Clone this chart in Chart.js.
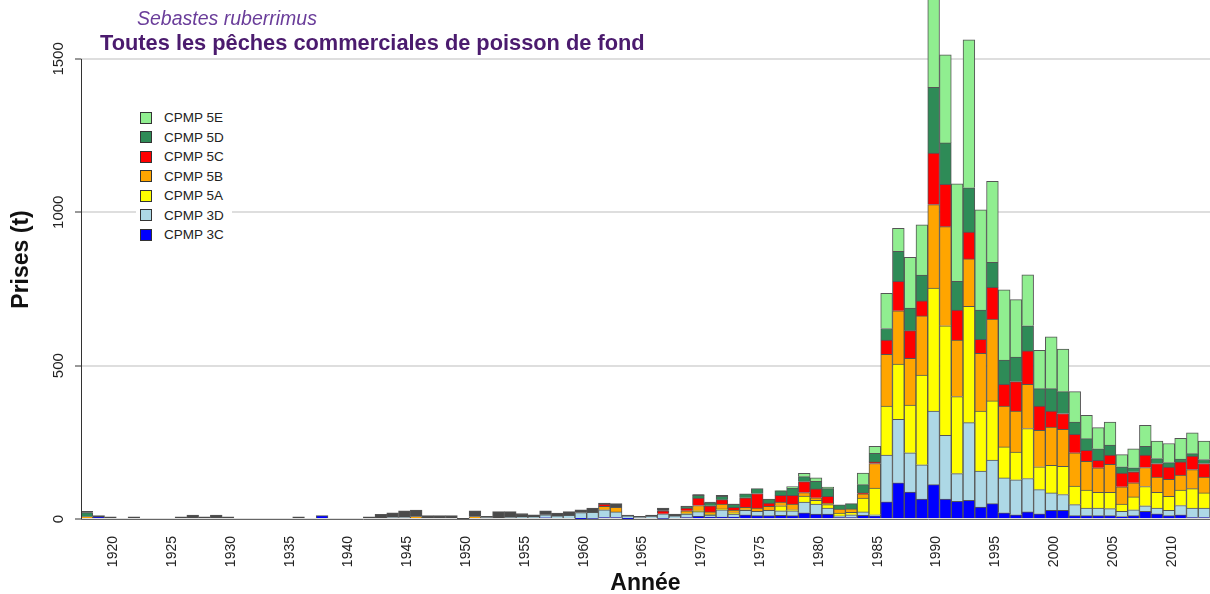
<!DOCTYPE html>
<html>
<head>
<meta charset="utf-8">
<script src="https://cdn.jsdelivr.net/npm/chart.js@4"></script>
<style>
body { margin: 0; background: #fff; font-family: Arial, "Liberation Sans", sans-serif; }
#wrap { position: relative; width: 1210px; height: 594px; overflow: hidden; }
#sp { position: absolute; left: 137px; top: 7px; font-style: italic; font-size: 19.5px; color: #6a3d9a; }
#tt { position: absolute; left: 100px; top: 30px; font-weight: bold; font-size: 21.8px; color: #4b1b6e; }
#leg { position: absolute; left: 136px; top: 107px; background: #fff; padding: 1px 8px 1px 4px; }
.it { display: flex; align-items: center; height: 19.5px; font-size: 13.5px; color: #222; }
.sw { width: 10px; height: 10px; border: 1px solid #333; margin-right: 12px; }
</style>
</head>
<body>
<div id="wrap">
  <canvas id="myChart" width="1210" height="594"></canvas>
  <div id="sp">Sebastes ruberrimus</div>
  <div id="tt">Toutes les pêches commerciales de poisson de fond</div>
  <div id="leg"></div>
</div>
<script>
// years 1918 - 2013
const years = [];
for (let y = 1918; y <= 2013; y++) years.push(y);

const yTicks = [0, 500, 1000, 1500];

// catches (t) per area
const cpmp3C = [
  0, 6, 0, 0, 0, 0, 0, 0, 0, 0,
  0, 0, 0, 0, 0, 0, 0, 0, 0, 0,
  11, 0, 0, 0, 0, 0, 0, 0, 0, 0,
  0, 0, 0, 0, 0, 0, 0, 0, 0, 4,
  0, 0, 1, 2, 5, 5, 1, 0, 0, 2,
  0, 5, 9, 6, 6, 6, 14, 11, 11, 12,
  11, 20, 16, 16, 5, 5, 12, 10, 56, 118,
  88, 65, 112, 65, 58, 61, 39, 50, 20, 14,
  23, 17, 28, 28, 11, 11, 11, 11, 8, 11,
  25, 17, 11, 14, 5, 5
];
const cpmp3D = [
  0, 0, 0, 0, 0, 0, 0, 0, 0, 0,
  0, 0, 0, 0, 0, 0, 0, 0, 0, 0,
  0, 0, 0, 0, 0, 0, 5, 5, 0, 0,
  0, 0, 0, 0, 4, 0, 5, 6, 6, 10,
  10, 12, 20, 20, 25, 18, 9, 5, 9, 15,
  10, 11, 15, 7, 24, 10, 14, 14, 17, 15,
  16, 35, 33, 20, 5, 9, 11, 4, 152, 207,
  128, 112, 240, 208, 90, 253, 117, 142, 114, 114,
  109, 79, 57, 52, 36, 25, 25, 23, 17, 19,
  18, 19, 17, 30, 31, 31
];
const cpmp5A = [
  0, 0, 0, 0, 0, 0, 0, 0, 0, 0,
  0, 0, 0, 0, 0, 0, 0, 0, 0, 0,
  0, 0, 0, 0, 0, 0, 0, 0, 0, 0,
  0, 0, 0, 0, 0, 0, 0, 0, 0, 0,
  0, 0, 0, 0, 0, 0, 0, 0, 0, 0,
  0, 2, 3, 2, 3, 4, 2, 0, 0, 16,
  3, 20, 12, 11, 9, 8, 45, 87, 160, 180,
  155, 292, 401, 357, 251, 379, 196, 193, 101, 90,
  163, 74, 90, 92, 60, 58, 51, 53, 24, 42,
  63, 51, 46, 50, 63, 49
];
const cpmp5B = [
  8, 0, 0, 0, 0, 0, 0, 0, 0, 0,
  0, 0, 0, 0, 0, 0, 0, 0, 0, 0,
  0, 0, 0, 0, 0, 0, 0, 0, 8, 0,
  0, 0, 0, 8, 0, 0, 0, 0, 0, 0,
  0, 0, 0, 0, 11, 15, 0, 0, 0, 0,
  0, 9, 17, 8, 16, 9, 8, 11, 13, 12,
  19, 11, 8, 5, 13, 11, 14, 80, 169, 174,
  153, 193, 272, 323, 184, 155, 188, 267, 133, 134,
  144, 119, 125, 120, 109, 94, 80, 91, 56, 46,
  62, 50, 55, 49, 62, 52
];
const cpmp5C = [
  0, 0, 0, 0, 0, 0, 0, 0, 0, 0,
  0, 0, 0, 0, 0, 0, 0, 0, 0, 0,
  0, 0, 0, 0, 0, 0, 0, 0, 0, 0,
  0, 0, 0, 0, 0, 0, 0, 0, 0, 0,
  0, 0, 0, 0, 8, 0, 0, 0, 0, 10,
  0, 9, 24, 20, 14, 9, 31, 47, 11, 22,
  28, 36, 29, 22, 0, 0, 3, 5, 46, 96,
  90, 49, 168, 138, 98, 87, 46, 103, 71, 96,
  109, 79, 52, 52, 60, 36, 24, 30, 45, 36,
  40, 44, 40, 43, 44, 44
];
const cpmp5D = [
  13, 0, 0, 0, 0, 0, 0, 0, 0, 0,
  0, 0, 0, 0, 0, 0, 0, 0, 0, 0,
  0, 0, 0, 0, 0, 0, 0, 0, 0, 0,
  0, 0, 0, 0, 0, 0, 0, 0, 0, 0,
  0, 0, 0, 0, 0, 0, 0, 0, 0, 0,
  0, 3, 9, 10, 11, 10, 13, 16, 13, 15,
  24, 16, 25, 25, 14, 17, 27, 28, 38, 98,
  74, 84, 214, 135, 94, 145, 95, 82, 79, 80,
  82, 57, 73, 71, 40, 38, 38, 33, 20, 13,
  29, 16, 15, 9, 8, 13
];
const cpmp5E = [
  0, 0, 0, 0, 0, 0, 0, 0, 0, 0,
  0, 0, 0, 0, 0, 0, 0, 0, 0, 0,
  0, 0, 0, 0, 0, 0, 0, 0, 0, 0,
  0, 0, 0, 0, 0, 0, 0, 0, 0, 0,
  0, 0, 0, 0, 0, 0, 0, 0, 0, 0,
  0, 0, 0, 0, 0, 0, 0, 0, 0, 1,
  5, 11, 11, 5, 0, 0, 38, 23, 115, 75,
  165, 164, 353, 287, 318, 482, 327, 264, 229, 187,
  166, 125, 169, 139, 99, 76, 69, 75, 40, 62,
  68, 57, 62, 68, 68, 60
];
// unassigned area (dark grey, not in legend)
const autre = [
  4, 5, 7, 0, 7, 0, 0, 0, 7, 13,
  7, 13, 7, 0, 0, 0, 0, 0, 7, 0,
  0, 0, 0, 0, 7, 15, 15, 22, 21, 11,
  11, 11, 1, 19, 5, 24, 19, 12, 8, 13,
  9, 12, 9, 14, 3, 12, 3, 4, 4, 9,
  6, 3, 3, 2, 3, 1, 0, 0, 0, 0,
  0, 0, 0, 0, 0, 0, 0, 0, 0, 0,
  0, 0, 0, 0, 0, 0, 0, 0, 0, 0,
  0, 0, 0, 0, 0, 0, 0, 0, 0, 0,
  0, 0, 0, 0, 0, 0
];

const series = [
  { label: 'CPMP 3C', data: cpmp3C, color: '#0000ff' },
  { label: 'CPMP 3D', data: cpmp3D, color: '#add8e6' },
  { label: 'CPMP 5A', data: cpmp5A, color: '#ffff00' },
  { label: 'CPMP 5B', data: cpmp5B, color: '#ffa500' },
  { label: 'CPMP 5C', data: cpmp5C, color: '#ff0000' },
  { label: 'CPMP 5D', data: cpmp5D, color: '#2e8b57' },
  { label: 'CPMP 5E', data: cpmp5E, color: '#90ee90' },
  { label: 'Autre', data: autre, color: '#4a4a4a', hidden: true }
];

// html legend, top to bottom = 5E .. 3C
const leg = document.getElementById('leg');
series.filter(s => !s.hidden).slice().reverse().forEach(s => {
  const row = document.createElement('div');
  row.className = 'it';
  row.innerHTML = '<span class="sw" style="background:' + s.color + '"></span>' + s.label;
  leg.appendChild(row);
});

// y axis drawn R-style: line only from 0 to 1500, vertical labels
const rAxis = {
  id: 'rAxis',
  afterDraw(chart) {
    const ys = chart.scales.y;
    const ctx = chart.ctx;
    const x0 = ys.right;
    ctx.save();
    ctx.strokeStyle = '#333';
    ctx.lineWidth = 1;
    ctx.beginPath();
    ctx.moveTo(x0 + 0.5, ys.getPixelForValue(0));
    ctx.lineTo(x0 + 0.5, ys.getPixelForValue(1500));
    ctx.stroke();
    ctx.fillStyle = '#222';
    ctx.font = '15px Arial, "Liberation Sans"';
    ctx.textAlign = 'center';
    ctx.textBaseline = 'middle';
    yTicks.forEach(v => {
      ctx.save();
      ctx.translate(x0 - 22, ys.getPixelForValue(v));
      ctx.rotate(-Math.PI / 2);
      ctx.fillText(String(v), 0, 0);
      ctx.restore();
    });
    ctx.restore();
  }
};

const ctx = document.getElementById('myChart').getContext('2d');
const chart = new Chart(ctx, {
  type: 'bar',
  data: {
    labels: years,
    datasets: series.map(s => ({
      label: s.label,
      data: s.data,
      backgroundColor: s.color,
      borderColor: '#555',
      borderWidth: 1,
      barPercentage: 1,
      categoryPercentage: 1
    }))
  },
  options: {
    responsive: false,
    animation: false,
    layout: { padding: 0 },
    plugins: {
      legend: { display: false },
      tooltip: { enabled: false }
    },
    scales: {
      x: {
        stacked: true,
        grid: { display: false, drawTicks: false },
        border: { display: true, color: '#666', width: 1 },
        ticks: {
          autoSkip: false,
          minRotation: 90,
          maxRotation: 90,
          padding: 17,
          labelOffset: 3,
          color: '#222',
          font: { family: 'Arial, "Liberation Sans"', size: 14 },
          callback: function(val, i) {
            const yr = years[i];
            return yr % 5 === 0 ? String(yr) : '';
          }
        },
        title: {
          display: true,
          text: 'Année',
          color: '#111',
          font: { family: 'Arial, "Liberation Sans"', size: 23, weight: 'bold', lineHeight: 0.9 },
          padding: { top: 0, bottom: 0 }
        },
        afterFit: function(scale) {
          scale.height = 75;
          scale.paddingLeft = 0;
          scale.paddingRight = 0;
        }
      },
      y: {
        stacked: true,
        min: 0,
        max: 1692,
        grid: { color: '#dedede', lineWidth: 2, tickColor: '#333', tickLength: 6, tickWidth: 1 },
        border: { display: false },
        ticks: { display: false, stepSize: 500 },
        afterBuildTicks: function(scale) {
          scale.ticks = yTicks.map(v => ({ value: v }));
        },
        title: {
          display: true,
          text: 'Prises (t)',
          color: '#111',
          font: { family: 'Arial, "Liberation Sans"', size: 23, weight: 'bold', lineHeight: 1 },
          padding: { top: 10, bottom: 0 }
        },
        afterFit: function(scale) { scale.width = 81; }
      }
    }
  },
  plugins: [rAxis]
});
</script>
</body>
</html>
